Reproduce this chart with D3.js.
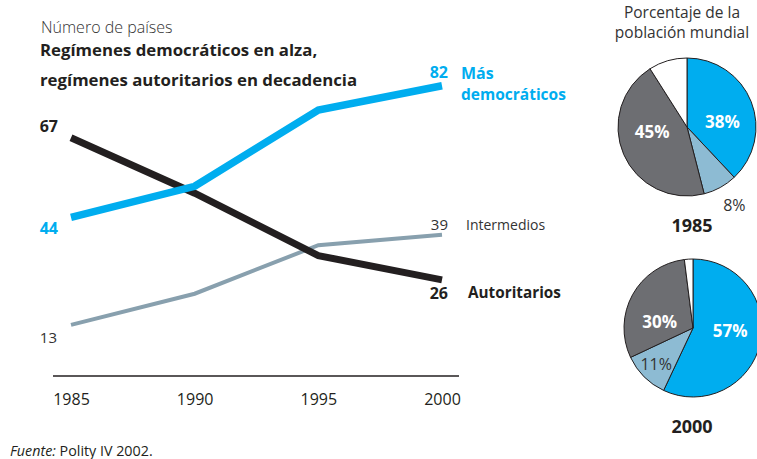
<!DOCTYPE html>
<html>
<head>
<meta charset="utf-8">
<script src="https://cdn.jsdelivr.net/npm/d3@7"></script>
<style>
  body { margin: 0; background: #fff; }
  svg { font-family: "Open Sans", "Noto Sans", sans-serif; }
</style>
</head>
<body>
<article></article>
<script>
// data
const years = [1985, 1990, 1995, 2000]
const masDemocraticos = [44, 53, 75, 82]
const autoritarios = [67, 51, 33, 26]
const intermedios = [13, 22, 36, 39]

const pieYears = ['1985', '2000']
const pieShares = [
    [38, 8, 45, 9],   // 1985: democráticos, intermedios, autoritarios, otros
    [57, 11, 30, 2]   // 2000
]

const m = { width: 757, height: 459 }
const dark = '#231f20'
const blue = '#00adef'

const svg = d3.select('article').append('svg')
    .attr('width', m.width)
    .attr('height', m.height)

const x = d3.scaleLinear().domain([1985, 2000]).range([71, 442])
const y = d3.scaleLinear().domain([0, 90]).range([370, 58])

// headings
svg.append('text').attr('x', 41).attr('y', 33)
    .attr('font-size', 16).attr('font-weight', 300).attr('fill', '#333')
    .text('Número de países')
svg.append('text').attr('x', 40).attr('y', 56)
    .attr('font-size', 16.8).attr('font-weight', 700).attr('fill', dark)
    .text('Regímenes democráticos en alza,')
svg.append('text').attr('x', 40).attr('y', 86)
    .attr('font-size', 16.8).attr('font-weight', 700).attr('fill', dark)
    .text('regímenes autoritarios en decadencia')

// axis
const axisY = 376
svg.append('line')
    .attr('x1', x.range()[0] - 18).attr('x2', x.range()[1] + 17)
    .attr('y1', axisY).attr('y2', axisY)
    .attr('stroke', dark).attr('stroke-width', 1.5)

const axis = svg.append('g')
    .attr('transform', `translate(0,${axisY})`)
    .call(d3.axisBottom(x).tickValues(years).tickSize(0).tickPadding(18).tickFormat(d3.format('d')))
axis.select('.domain').remove()
axis.selectAll('text')
    .attr('font-size', 16).attr('fill', dark).attr('font-family', '"Open Sans", sans-serif')

// lines
const series = [
    { values: intermedios, color: '#88a0ae', width: 4 },
    { values: autoritarios, color: dark, width: 7 },
    { values: masDemocraticos, color: blue, width: 7.5 }
]

const line = d3.line()
    .x((d, i) => x(years[i]))
    .y(d => y(d))

svg.selectAll('.serie')
    .data(series)
    .enter()
    .append('path')
    .attr('class', 'serie')
    .attr('d', d => line(d.values))
    .attr('fill', 'none')
    .attr('stroke', d => d.color)
    .attr('stroke-width', d => d.width)

// end labels
function label(tx, ty, txt, opts) {
    svg.append('text')
        .attr('x', tx).attr('y', ty)
        .attr('dy', '0.35em')
        .attr('text-anchor', opts.anchor || 'start')
        .attr('font-size', opts.size || 16)
        .attr('font-weight', opts.bold ? 700 : 400)
        .attr('fill', opts.color || dark)
        .text(txt)
}

label(58, 126, autoritarios[0], { anchor: 'end', bold: true })
label(58, 228, masDemocraticos[0], { anchor: 'end', bold: true, color: blue })
label(57, 338, intermedios[0], { anchor: 'end', size: 15, color: '#333' })

label(448, 72, masDemocraticos[3], { anchor: 'end', bold: true, color: blue })
label(461, 73, 'Más', { bold: true, color: blue })
label(461, 95, 'democráticos', { bold: true, color: blue, size: 15.5 })
label(448, 225, intermedios[3], { anchor: 'end', size: 15, color: '#333' })
label(466, 225, 'Intermedios', { size: 14, color: '#333' })
label(448, 293, autoritarios[3], { anchor: 'end', bold: true })
label(468, 293, 'Autoritarios', { bold: true, size: 15.3 })

// footnote
const foot = svg.append('text').attr('x', 10).attr('y', 456)
    .attr('font-size', 14.3).attr('fill', dark)
foot.append('tspan').attr('font-style', 'italic').text('Fuente:')
foot.append('tspan').text(' Polity IV 2002.')

// pies
svg.append('text').attr('x', 682).attr('y', 13).attr('dy', '0.35em')
    .attr('text-anchor', 'middle').attr('font-size', 15.5).attr('fill', '#333')
    .text('Porcentaje de la')
svg.append('text').attr('x', 682).attr('y', 33).attr('dy', '0.35em')
    .attr('text-anchor', 'middle').attr('font-size', 15.5).attr('fill', '#333')
    .text('población mundial')

const pieColors = [blue, '#8dbbd3', '#6d6e72', '#ffffff']
const centers = [[687, 127], [693, 328]]
const r = 69

const pie = d3.pie().sort(null).value(d => d)
const arc = d3.arc().innerRadius(0).outerRadius(r)
const inArc = d3.arc().innerRadius(38).outerRadius(38)
const edgeArc = d3.arc().innerRadius(52).outerRadius(52)
const outArc = d3.arc().innerRadius(90).outerRadius(90)

pieShares.forEach(function (shares, k) {
    const gp = svg.append('g')
        .attr('transform', `translate(${centers[k][0]},${centers[k][1]})`)
    const arcs = pie(shares)

    gp.selectAll('path')
        .data(arcs)
        .enter()
        .append('path')
        .attr('d', arc)
        .attr('fill', (d, i) => pieColors[i])
        .attr('stroke', dark)
        .attr('stroke-width', 1)

    arcs.forEach(function (d, i) {
        if (i === 3) return
        const small = d.data < 15
        let c, fill, weight
        if (!small) {
            c = inArc.centroid(d)
            c[1] = c[1] * 0.35
            fill = '#fff'; weight = 700
        } else if (k === 0) {
            c = outArc.centroid(d)
            c[0] += 4
            fill = '#333'; weight = 400
        } else {
            c = edgeArc.centroid(d)
            fill = '#333'; weight = 400
        }
        gp.append('text')
            .attr('x', c[0]).attr('y', c[1])
            .attr('dy', '0.35em')
            .attr('text-anchor', 'middle')
            .attr('font-size', small ? 16 : 17)
            .attr('font-weight', weight)
            .attr('fill', fill)
            .text(d.data + '%')
    })

    svg.append('text')
        .attr('x', 692).attr('y', centers[k][1] + r + 30)
        .attr('dy', '0.35em')
        .attr('text-anchor', 'middle')
        .attr('font-size', 18).attr('font-weight', 700).attr('fill', dark)
        .text(pieYears[k])
})
</script>
</body>
</html>
